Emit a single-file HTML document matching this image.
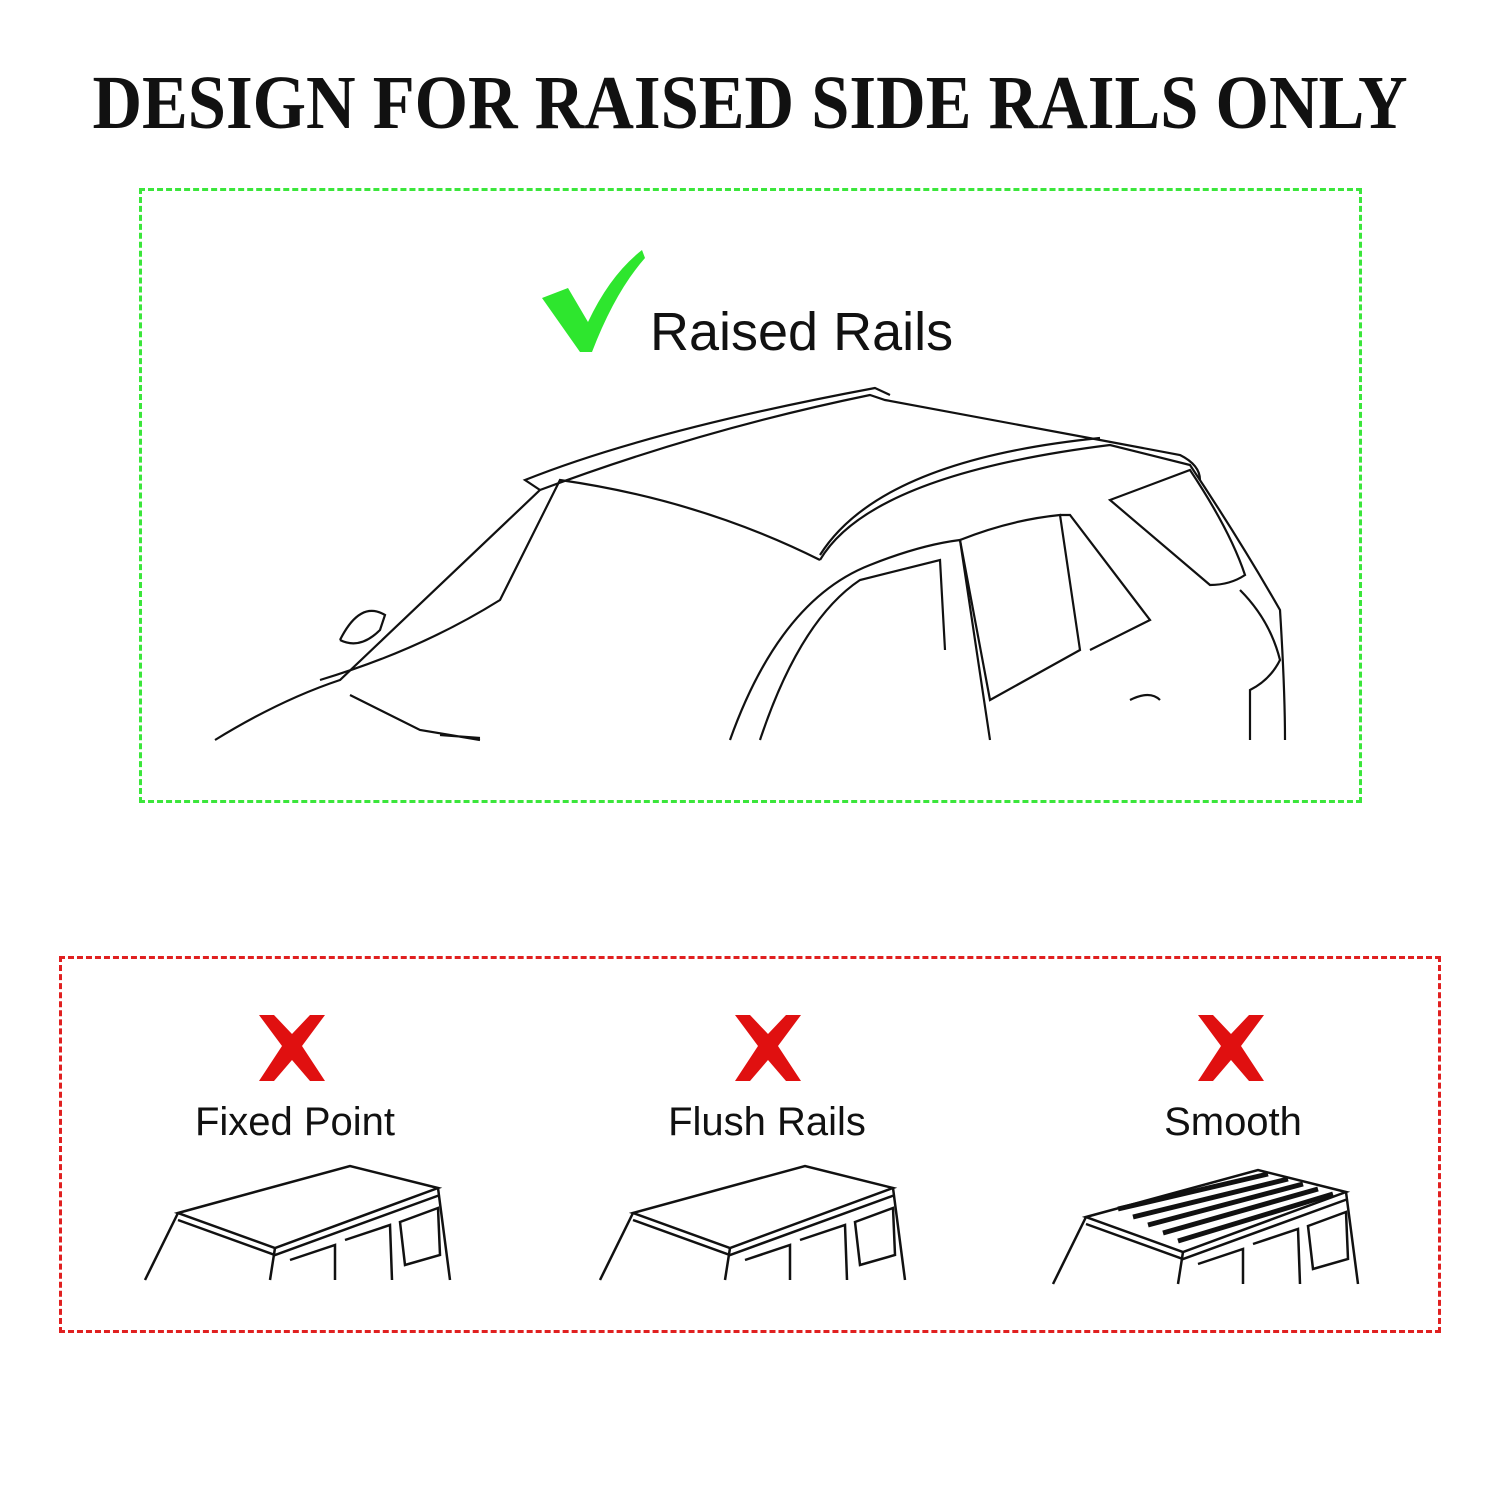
<!DOCTYPE html>
<html><head><meta charset="utf-8"><style>
html,body{margin:0;padding:0;background:#fff;}
body{width:1500px;height:1500px;position:relative;overflow:hidden;font-family:"Liberation Sans",sans-serif;}
.title{position:absolute;left:0;top:60px;width:1500px;text-align:center;font-family:"Liberation Serif",serif;font-weight:900;font-size:76px;letter-spacing:0;color:#111;transform:scaleX(0.903);transform-origin:750px 0;white-space:nowrap;}
.box{position:absolute;box-sizing:border-box;}
.lbl{position:absolute;font-size:40px;color:#111;text-align:center;width:300px;}
</style></head><body>
<div class="title">DESIGN FOR RAISED SIDE RAILS ONLY</div>
<div class="box" style="left:139px;top:188px;width:1223px;height:615px;border:3px dashed #3be63b;"></div>
<div class="box" style="left:59px;top:956px;width:1382px;height:377px;border:3px dashed #e02020;"></div>
<svg width="1500" height="1500" style="position:absolute;left:0;top:0">
<path d="M542 298 L568 288 L588 322 Q610 275 642 250 L645 258 Q615 292 592 352 L580 352 Z" fill="#2ee62e"/>
<text x="650" y="350" font-family="Liberation Sans" font-size="54" fill="#111">Raised Rails</text>
<g fill="none" stroke="#111" stroke-width="2.2">
<path d="M215 740 Q280 700 340 680 L540 490 Q700 430 870 395 L885 400 L1100 440 L1180 455 Q1200 465 1200 480"/>
<path d="M540 490 L525 480 Q650 430 875 388 L890 395"/>
<path d="M320 680 Q420 650 500 600 L560 480 Q700 500 820 560"/>
<path d="M820 560 Q870 475 1110 445 L1190 465 Q1240 540 1280 610 Q1285 690 1285 740"/>
<path d="M820 555 Q880 460 1100 438"/>
<path d="M730 740 Q780 600 870 565 Q920 545 960 540 L990 740"/>
<path d="M760 740 Q800 620 860 580 L940 560 L945 650"/>
<path d="M960 540 Q1010 520 1060 515 L1080 650 L990 700 Z"/>
<path d="M1060 515 L1070 515 L1150 620 L1090 650"/>
<path d="M1110 500 L1190 470 Q1230 530 1245 575 Q1230 585 1210 585 Z"/>
<path d="M1240 590 Q1270 620 1280 660 Q1270 680 1250 690 L1250 740"/>
<path d="M1130 700 Q1150 690 1160 700"/>
<path d="M340 640 Q360 600 385 615 L380 630 Q360 650 340 640"/>
<path d="M350 695 L420 730 L480 740 M440 735 L480 738"/>
</g>
<g fill="#e01010">
<g transform="translate(292 1048)"><path d="M-33 -33 L-18 -33 L0 -14 L18 -33 L33 -33 L10 -2 L33 33 L18 33 L0 12 L-18 33 L-33 33 L-10 -2 Z"/></g>
<g transform="translate(768 1048)"><path d="M-33 -33 L-18 -33 L0 -14 L18 -33 L33 -33 L10 -2 L33 33 L18 33 L0 12 L-18 33 L-33 33 L-10 -2 Z"/></g>
<g transform="translate(1231 1048)"><path d="M-33 -33 L-18 -33 L0 -14 L18 -33 L33 -33 L10 -2 L33 33 L18 33 L0 12 L-18 33 L-33 33 L-10 -2 Z"/></g>
</g>
<g fill="none" stroke="#111" stroke-width="2.5">
<g>
<path d="M178 1213 L350 1166 L438 1188 L275 1248 Z"/>
<path d="M178 1213 L145 1280 M275 1248 L270 1280 M438 1188 L450 1280 M178 1220 L275 1255 L440 1195"/>
<path d="M290 1260 L335 1245 L335 1280 M345 1240 L390 1225 L392 1280 M400 1222 L438 1208 L440 1255 L405 1265 Z"/>
</g>
<g transform="translate(455 0)">
<path d="M178 1213 L350 1166 L438 1188 L275 1248 Z"/>
<path d="M178 1213 L145 1280 M275 1248 L270 1280 M438 1188 L450 1280 M178 1220 L275 1255 L440 1195"/>
<path d="M290 1260 L335 1245 L335 1280 M345 1240 L390 1225 L392 1280 M400 1222 L438 1208 L440 1255 L405 1265 Z"/>
</g>
<g transform="translate(908 4)">
<path d="M178 1213 L350 1166 L438 1188 L275 1248 Z"/>
<path d="M178 1213 L145 1280 M275 1248 L270 1280 M438 1188 L450 1280 M178 1220 L275 1255 L440 1195"/>
<path d="M290 1260 L335 1245 L335 1280 M345 1240 L390 1225 L392 1280 M400 1222 L438 1208 L440 1255 L405 1265 Z"/>
<path d="M210 1205 L360 1170 M225 1213 L380 1175 M240 1221 L395 1180 M255 1229 L410 1185 M270 1237 L425 1190" stroke-width="5"/>
</g>
</g>
</svg>
<div class="lbl" style="left:145px;top:1100px;">Fixed Point</div>
<div class="lbl" style="left:617px;top:1100px;">Flush Rails</div>
<div class="lbl" style="left:1083px;top:1100px;">Smooth</div>
</body></html>
